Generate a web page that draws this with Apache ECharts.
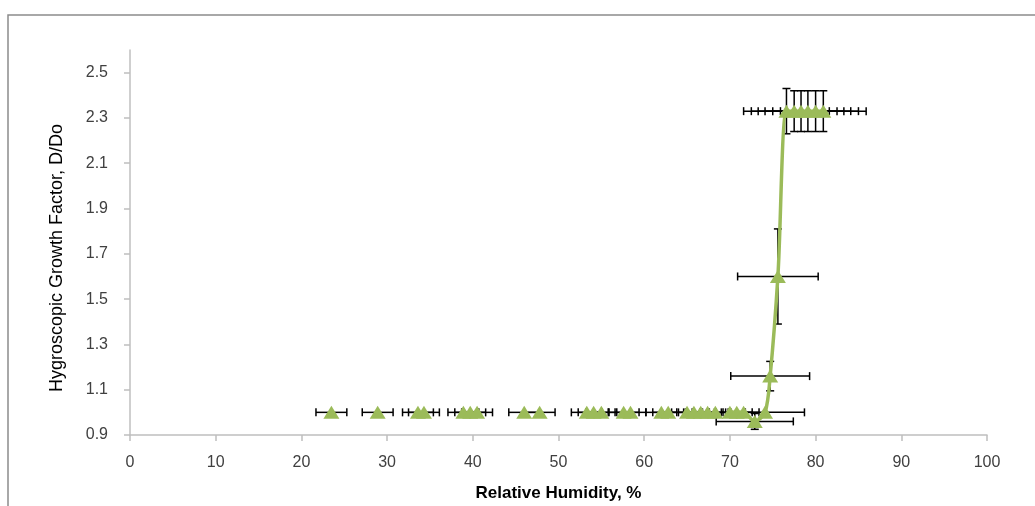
<!DOCTYPE html>
<html lang="en">
<head>
<meta charset="UTF-8">
<title>Hygroscopic Growth Factor</title>
</head>
<body style="margin: 0; background: #fff">
<div id="container" style="width: 1035px; height: 506px"></div>
<script src="https://cdn.jsdelivr.net/npm/echarts@6/dist/echarts.min.js"></script>
<script type="text/javascript">

    // relative humidity (%) of each measurement
    var rhValues = [23.5, 28.9, 33.6, 34.3, 38.9, 39.7, 40.5, 46.0, 47.8, 53.3, 54.1, 55.0,
        57.6, 58.4, 62.0, 62.8, 65.0, 65.8, 66.6, 67.4, 68.3, 70.0, 70.8, 71.6,
        72.9, 74.1, 74.7, 75.6,
        76.6, 77.5, 78.3, 79.1, 80.0, 80.9];
    // growth factor D/Do
    var gfValues = [1.0, 1.0, 1.0, 1.0, 1.0, 1.0, 1.0, 1.0, 1.0, 1.0, 1.0, 1.0,
        1.0, 1.0, 1.0, 1.0, 1.0, 1.0, 1.0, 1.0, 1.0, 1.0, 1.0, 1.0,
        0.96, 1.0, 1.16, 1.6,
        2.33, 2.33, 2.33, 2.33, 2.33, 2.33];
    // error on RH (+/-)
    var rhErr = [1.8, 1.8, 1.8, 1.8, 1.8, 1.8, 1.8, 1.8, 1.8, 1.8, 1.8, 1.8,
        1.8, 1.8, 1.8, 1.8, 1.8, 1.8, 1.8, 1.8, 1.8, 1.8, 1.8, 1.8,
        4.5, 4.6, 4.6, 4.7,
        5.0, 5.0, 5.0, 5.0, 5.0, 5.0];
    // error on growth factor (+/-)
    var gfErr = [0, 0, 0, 0, 0, 0, 0, 0, 0, 0, 0, 0,
        0, 0, 0, 0, 0, 0, 0, 0, 0, 0, 0, 0,
        0.035, 0, 0.065, 0.21,
        0.1, 0.09, 0.09, 0.09, 0.09, 0.09];
    // the smoothed curve starts at this point index
    var curveStart = 21;

    var yTicks = [0.9, 1.1, 1.3, 1.5, 1.7, 1.9, 2.1, 2.3, 2.5];

    var points = [];
    var bars = [];
    for (var i = 0; i < rhValues.length; i++) {
        points.push([rhValues[i], gfValues[i]]);
        bars.push([rhValues[i], gfValues[i], rhErr[i], gfErr[i]]);
    }
    var curve = points.slice(curveStart);

    var green = '#9bbb59';
    var labelFont = "'Liberation Sans', Arial, sans-serif";

    function renderErrorBar(params, api) {
        var x = api.value(0), y = api.value(1), ex = api.value(2), ey = api.value(3);
        var cap = 4;
        var style = { stroke: '#000', lineWidth: 1.5 };
        var children = [];
        if (ex > 0) {
            var l = api.coord([x - ex, y]);
            var r = api.coord([x + ex, y]);
            children.push({ type: 'line', shape: { x1: l[0], y1: l[1], x2: r[0], y2: r[1] }, style: style });
            children.push({ type: 'line', shape: { x1: l[0], y1: l[1] - cap, x2: l[0], y2: l[1] + cap }, style: style });
            children.push({ type: 'line', shape: { x1: r[0], y1: r[1] - cap, x2: r[0], y2: r[1] + cap }, style: style });
        }
        if (ey > 0) {
            var t = api.coord([x, y + ey]);
            var b = api.coord([x, y - ey]);
            children.push({ type: 'line', shape: { x1: t[0], y1: t[1], x2: b[0], y2: b[1] }, style: style });
            children.push({ type: 'line', shape: { x1: t[0] - cap, y1: t[1], x2: t[0] + cap, y2: t[1] }, style: style });
            children.push({ type: 'line', shape: { x1: b[0] - cap, y1: b[1], x2: b[0] + cap, y2: b[1] }, style: style });
        }
        return { type: 'group', children: children };
    }

    var dom = document.getElementById("container");
    var myChart = echarts.init(dom);

    var option = {
        animation: false,
        backgroundColor: '#fff',
        grid: { left: 130, right: 48, top: 50, bottom: 71, containLabel: false, outerBoundsMode: 'none' },
        graphic: [
            {
                // outer frame of the chart area
                type: 'rect',
                shape: { x: 8, y: 15, width: 1040, height: 510 },
                style: { fill: 'none', stroke: '#8c8c8c', lineWidth: 1.5 },
                silent: true
            },
            {
                type: 'text',
                x: 57, y: 258,
                rotation: Math.PI / 2,
                style: {
                    text: 'Hygroscopic Growth Factor, D/Do',
                    font: "18px 'Liberation Sans', sans-serif",
                    fill: '#000',
                    align: 'center',
                    verticalAlign: 'middle'
                }
            }
        ],
        xAxis: {
            type: 'value',
            min: 0, max: 100, interval: 10,
            name: 'Relative Humidity, %',
            nameLocation: 'middle',
            nameGap: 50,
            nameTextStyle: { fontFamily: labelFont, fontSize: 17, fontWeight: 'bold', color: '#000' },
            axisLine: { onZero: false, lineStyle: { color: '#bfbfbf', width: 1.5 } },
            axisTick: { show: true, length: 6, inside: false, lineStyle: { color: '#bfbfbf', width: 1.5 } },
            axisLabel: { fontFamily: labelFont, fontSize: 16, color: '#404040', margin: 20 },
            splitLine: { show: false }
        },
        yAxis: {
            type: 'value',
            min: 0.9, max: 2.6,
            axisLine: { show: true, lineStyle: { color: '#bfbfbf', width: 1.5 } },
            axisTick: { show: true, length: 6, customValues: yTicks, lineStyle: { color: '#bfbfbf', width: 1.5 } },
            axisLabel: {
                fontFamily: labelFont, fontSize: 16, color: '#404040', margin: 22,
                customValues: yTicks,
                formatter: function (v) { return v.toFixed(1); }
            },
            splitLine: { show: false }
        },
        series: [
            {
                name: 'error',
                type: 'custom',
                renderItem: renderErrorBar,
                data: bars,
                encode: { x: 0, y: 1 },
                z: 1,
                silent: true
            },
            {
                name: 'curve',
                type: 'line',
                data: curve,
                smooth: 0.3,
                showSymbol: false,
                lineStyle: { color: green, width: 3.5 },
                z: 2
            },
            {
                name: 'D/Do',
                type: 'scatter',
                data: points,
                symbol: 'triangle',
                symbolSize: [16, 13],
                itemStyle: { color: green, opacity: 1 },
                z: 3
            }
        ]
    };

    myChart.setOption(option);
</script>
</body>
</html>
